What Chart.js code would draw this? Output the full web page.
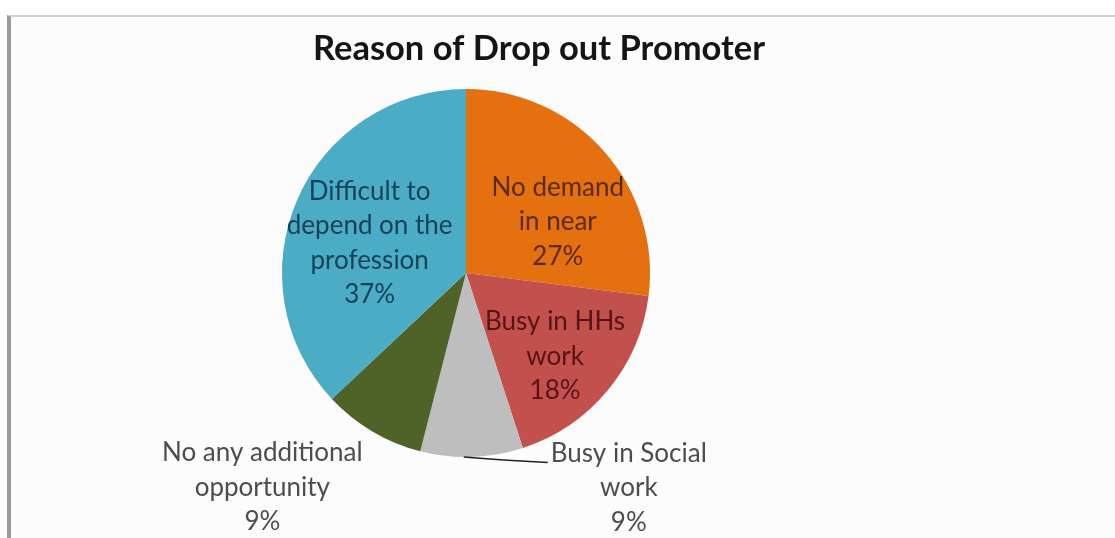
<!DOCTYPE html>
<html>
<head>
<meta charset="utf-8">
<script src="https://cdn.jsdelivr.net/npm/chart.js@4.4.1/dist/chart.umd.min.js"></script>
<style>
  html, body { margin: 0; padding: 0; background: #fff; }
  #wrap { position: relative; width: 1115px; height: 538px; overflow: hidden; }
  #frame {
    position: absolute; left: 7px; top: 15px; right: 0; bottom: 0;
    background: #fcfcfc;
    border-top: 2px solid #cfcfcf;
    border-left: 4px solid #9a9a9a;
  }
  #chart { position: absolute; left: 0; top: 0; }
</style>
</head>
<body>
<div id="wrap">
  <div id="frame"></div>
  <canvas id="chart" width="1115" height="538"></canvas>
</div>
<script>
// reasons, clockwise from 12 o'clock
const reasons = [
  'No demand in near',
  'Busy in HHs work',
  'Busy in Social work',
  'No any additional opportunity',
  'Difficult to depend on the profession'
];
const shares = [27, 18, 9, 9, 37];

// how each label wraps
const labelLines = [
  ['No demand', 'in near'],
  ['Busy in HHs', 'work'],
  ['Busy in Social', 'work'],
  ['No any additional', 'opportunity'],
  ['Difficult to', 'depend on the', 'profession']
];

const sliceColors = ['#e4700f', '#c2504d', '#bebebe', '#4f6228', '#4bacc6'];
const textColors = ['#5a2a06', '#571414', '#4d4d4d', '#4d4d4d', '#163f5a'];

// label anchor: fraction of radius along the slice middle, then a nudge
const labelPlace = [
  { r: 0.6, dx: 9, dy: 22 },
  { r: 0.6, dx: 4, dy: 13 },
  { r: 1.0, dx: 157, dy: 31, leader: true },
  { r: 1.0, dx: -110, dy: 56 },
  { r: 0.6, dx: 5, dy: 14 }
];

const FONT = 'Lato, "Open Sans", sans-serif';
const LINE = 34.5;

const sliceLabels = {
  id: 'sliceLabels',
  afterDatasetsDraw(chart) {
    const ctx = chart.ctx;
    const meta = chart.getDatasetMeta(0);
    ctx.save();
    ctx.font = '26px ' + FONT;
    ctx.textAlign = 'center';
    ctx.textBaseline = 'middle';
    meta.data.forEach((arc, i) => {
      const p = arc.getProps(['x', 'y', 'startAngle', 'endAngle', 'outerRadius'], true);
      const mid = (p.startAngle + p.endAngle) / 2;
      const place = labelPlace[i];
      const lines = labelLines[i].concat([shares[i] + '%']);
      const cx = p.x + Math.cos(mid) * p.outerRadius * place.r + place.dx;
      const cy = p.y + Math.sin(mid) * p.outerRadius * place.r + place.dy;
      const top = cy - (lines.length - 1) * LINE / 2;
      if (place.leader) {
        const w = ctx.measureText(lines[0]).width;
        const ex = p.x + Math.cos(mid) * p.outerRadius;
        const ey = p.y + Math.sin(mid) * p.outerRadius;
        ctx.strokeStyle = '#222';
        ctx.lineWidth = 1.5;
        ctx.beginPath();
        ctx.moveTo(ex - 8, ey);
        ctx.quadraticCurveTo(ex + 30, ey + 3, cx - w / 2 - 3, top + 9);
        ctx.stroke();
      }
      ctx.fillStyle = textColors[i];
      lines.forEach((t, k) => ctx.fillText(t, cx, top + k * LINE));
    });
    // chart heading
    ctx.font = 'bold 34.5px ' + FONT;
    ctx.fillStyle = '#151515';
    ctx.textBaseline = 'alphabetic';
    ctx.fillText('Reason of Drop out Promoter', 539, 60);
    ctx.restore();
  }
};

new Chart(document.getElementById('chart'), {
  type: 'pie',
  data: {
    labels: reasons,
    datasets: [{
      data: shares,
      backgroundColor: sliceColors,
      borderWidth: 0,
      hoverOffset: 0
    }]
  },
  options: {
    responsive: false,
    animation: false,
    layout: { padding: { left: 282, right: 465, top: 89, bottom: 81 } },
    plugins: {
      legend: { display: false },
      title: { display: false },
      tooltip: { enabled: false }
    }
  },
  plugins: [sliceLabels]
});
</script>
</body>
</html>
